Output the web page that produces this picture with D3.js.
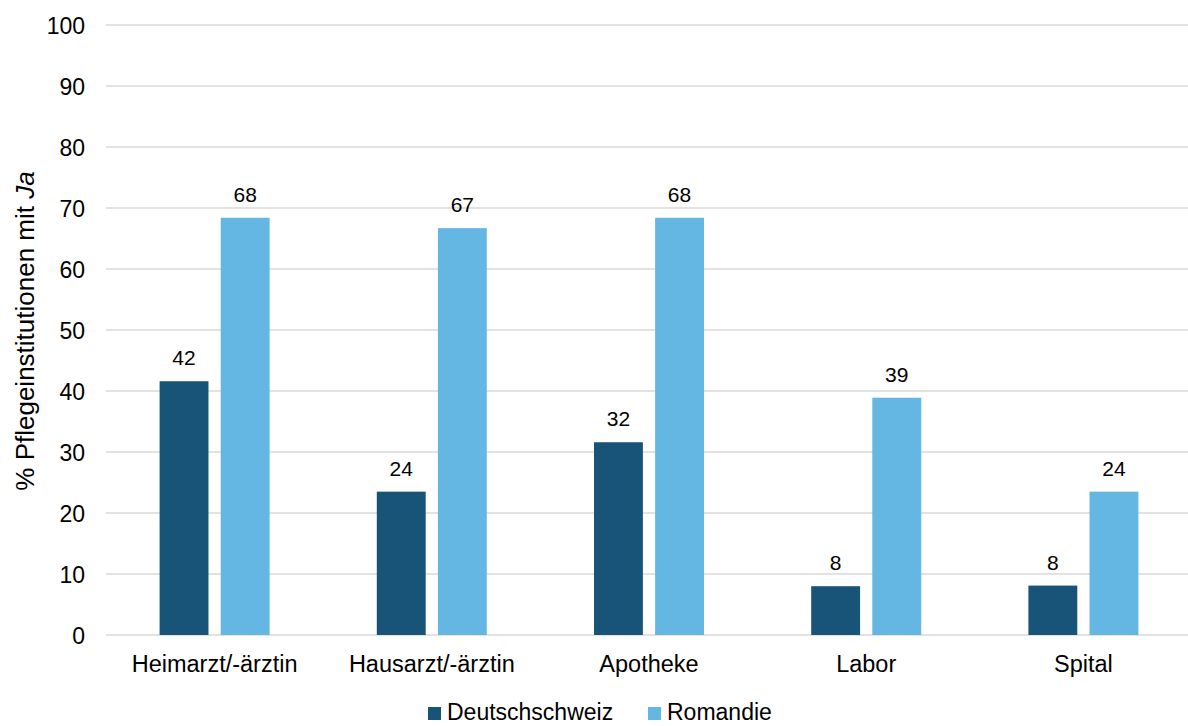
<!DOCTYPE html>
<html><head><meta charset="utf-8">
<script src="https://cdn.jsdelivr.net/npm/d3@7"></script>
<style>body{margin:0;background:#fff}svg{display:block}text{font-family:"Liberation Sans",Arial,sans-serif;fill:#000}</style>
</head><body><svg id="c" width="1188" height="726"></svg>
<script>
const categories = ["Heimarzt/-ärztin","Hausarzt/-ärztin","Apotheke","Labor","Spital"];
const seriesNames = ["Deutschschweiz","Romandie"];
const deutschschweiz = [41.6, 23.5, 31.6, 8.0, 8.1];
const romandie = [68.4, 66.7, 68.4, 38.9, 23.5];
const yTicks = [0,10,20,30,40,50,60,70,80,90,100];
const colors = ["#185478","#65B7E3"];

const svg = d3.select("#c");
const x0 = d3.scaleBand().domain(categories).range([106,1192]).padding(0);
const bw = x0.bandwidth();
const x1 = d3.scaleBand().domain(seriesNames).range([bw/2-55, bw/2+55]).paddingInner(0.2).paddingOuter(0);
const y = d3.scaleLinear().domain([0,100]).range([635,25]);

// gridlines
svg.append("g").selectAll("line").data(yTicks).join("line")
  .attr("x1",106).attr("x2",1188).attr("y1",d=>y(d)).attr("y2",d=>y(d))
  .attr("stroke","#d9d9d9").attr("stroke-width",1.3);

// y axis labels
const yAxis = d3.axisLeft(y).tickValues(yTicks).tickSize(0).tickPadding(0);
const gy = svg.append("g").attr("transform","translate(85,0)").call(yAxis);
gy.select(".domain").remove();
gy.selectAll("text").style("font-size","23px").attr("dy","0.35em").attr("font-family","Liberation Sans, Arial, sans-serif").attr("fill","#000");

// x axis labels
const xAxis = d3.axisBottom(x0).tickSize(0).tickPadding(0);
const gx = svg.append("g").attr("transform","translate(0,672)").call(xAxis);
gx.select(".domain").remove();
gx.selectAll("text").style("font-size","23.5px").attr("dy","0").attr("font-family","Liberation Sans, Arial, sans-serif").attr("fill","#000");

const data = categories.map((c,i)=>({c, vals:[{s:seriesNames[0],v:deutschschweiz[i]},{s:seriesNames[1],v:romandie[i]}]}));
const groups = svg.append("g").selectAll("g").data(data).join("g")
  .attr("transform",d=>`translate(${x0(d.c)},0)`);
groups.selectAll("rect").data(d=>d.vals).join("rect")
  .attr("x",d=>x1(d.s)).attr("width",x1.bandwidth())
  .attr("y",d=>y(d.v)).attr("height",d=>y(0)-y(d.v))
  .attr("fill",(d,i)=>colors[i]);
groups.selectAll("text").data(d=>d.vals).join("text")
  .attr("x",d=>x1(d.s)+x1.bandwidth()/2).attr("y",d=>y(d.v)-16)
  .attr("text-anchor","middle").style("font-size","21px")
  .text(d=>d3.format(".0f")(d.v));

// y axis title
const yt = svg.append("text").attr("transform","translate(34,331) rotate(-90)")
  .attr("text-anchor","middle").style("font-size","26px");
yt.append("tspan").text("% Pflegeinstitutionen mit ");
yt.append("tspan").attr("font-style","italic").text("Ja");

// legend
const legend = svg.append("g");
const lx = [428, 648];
seriesNames.forEach((s,i)=>{
  legend.append("rect").attr("x",lx[i]).attr("y",707).attr("width",13).attr("height",13).attr("fill",colors[i]);
  legend.append("text").attr("x",lx[i]+19).attr("y",720).style("font-size","23px").text(s);
});
</script></body></html>
